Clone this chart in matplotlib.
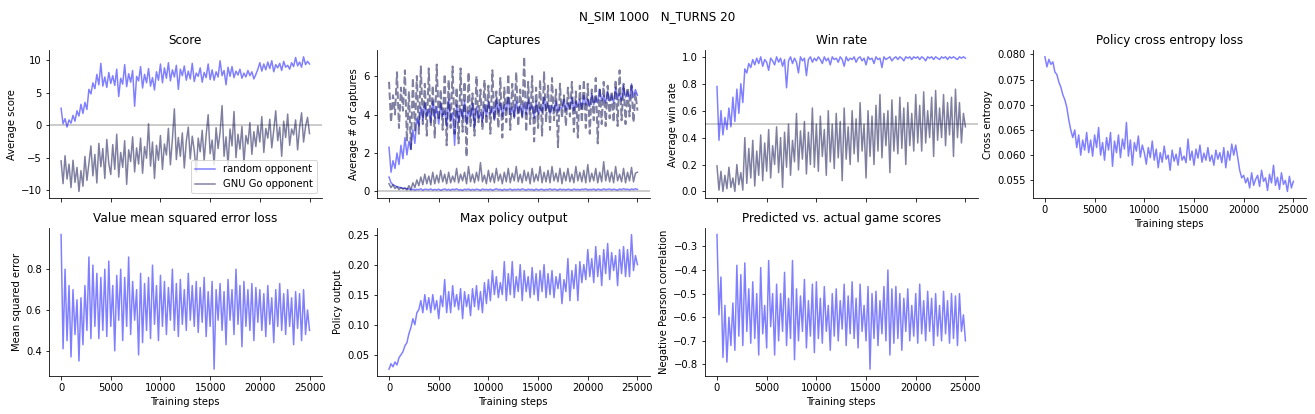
"""Training curves for the Go agent: score, captures, win rate and losses."""

import matplotlib

matplotlib.use("Agg")
import matplotlib.pyplot as plt
import numpy as np

# one logged value every STEP training steps
STEP = 200

score_random = [
    2.6, 0.2, 1.0, -0.3, 0.8, 0.3, 1.5, 0.6, 2.2, 1.4,
    3.2, 1.8, 3.5, 2.4, 5.5, 4.8, 6.5, 5.6, 7.8, 6.2,
    9.5, 6.0, 7.4, 5.8, 8.1, 6.4, 7.6, 6.1, 8.6, 4.4,
    7.2, 6.3, 9.3, 5.9, 7.9, 6.6, 8.4, 2.9, 7.5, 6.8,
    9.0, 5.7, 7.8, 6.5, 8.7, 6.0, 7.3, 5.4, 8.2, 6.9,
    9.4, 6.5, 8.8, 7.2, 9.6, 6.8, 8.5, 7.4, 9.2, 5.5,
    8.6, 7.6, 9.1, 6.9, 8.3, 7.1, 9.5, 6.7, 8.0, 7.5,
    8.8, 6.6, 8.1, 7.3, 9.4, 7.0, 8.5, 6.9, 8.2, 7.4,
    9.9, 7.6, 8.4, 6.2, 8.9, 7.5, 9.0, 7.3, 8.3, 7.7,
    8.6, 7.2, 8.0, 7.4, 8.4, 7.6, 8.2, 7.1, 7.8, 8.6,
    9.6, 8.3, 9.4, 8.5, 9.7, 8.7, 9.9, 8.2, 9.3, 8.8,
    9.5, 8.4, 9.8, 8.9, 9.2, 8.6, 9.6, 9.0, 10.4, 9.1,
    9.7, 8.9, 10.5, 9.3, 9.8, 9.4,
]
score_gnugo = [
    -5.5, -9.0, -4.7, -8.3, -6.0, -9.6, -5.4, -8.8, -6.5, -10.2,
    -7.0, -9.4, -4.8, -8.5, -5.9, -3.2, -7.8, -4.5, -8.9, -2.8,
    -6.4, -3.6, -8.2, -2.2, -5.9, -7.6, -3.0, -6.8, -1.4, -8.0,
    -4.2, -6.5, -2.4, -9.1, -3.8, -5.6, -1.8, -7.2, -3.5, -6.0,
    -2.0, -7.4, -3.3, -5.1, 0.2, -6.3, -2.6, -8.2, -3.1, -5.4,
    -1.6, -6.8, -2.9, -4.6, -0.5, -6.1, -2.2, 2.5, -5.3, -1.9,
    -4.8, -1.2, -6.6, -2.5, -0.3, -5.2, -1.7, -3.9, -7.2, -2.0,
    -4.1, -0.8, -5.5, -1.5, 1.6, -4.4, -2.3, -6.1, -0.4, -3.6,
    -1.1, 3.0, -4.8, -1.8, -6.2, -0.6, -3.2, 2.1, -5.0, -1.4,
    -3.7, -0.2, -5.8, -1.6, -2.9, 0.4, -4.5, -1.0, -3.3, -0.1,
    -2.6, 1.3, -4.2, -0.5, -2.0, 0.9, -3.5, -0.8, 2.2, -2.4,
    -0.3, -4.8, 0.6, -1.9, 1.7, -3.1, -0.6, -1.5, 0.8, -3.8,
    -0.4, 1.9, -2.6, -0.2, 1.2, -1.3,
]

# captures: own captures (high) and opponent captures (low)
capt_random_own = [
    2.3, 1.0, 1.6, 1.2, 2.0, 1.4, 2.4, 1.7, 2.8, 1.9,
    2.6, 2.2, 3.2, 2.5, 3.8, 3.4, 4.4, 3.7, 4.6, 3.9,
    4.3, 3.6, 4.7, 3.8, 4.4, 3.5, 4.6, 3.9, 4.2, 3.4,
    4.8, 3.7, 4.1, 2.4, 4.5, 3.6, 4.3, 3.8, 4.7, 3.5,
    4.2, 3.9, 4.6, 3.3, 4.4, 3.8, 4.1, 3.6, 4.5, 3.9,
    4.7, 4.0, 4.4, 3.7, 4.8, 4.1, 4.6, 3.9, 4.5, 4.2,
    4.9, 4.0, 4.4, 3.8, 4.7, 4.1, 4.5, 3.9, 4.6, 4.0,
    4.8, 4.2, 4.5, 3.8, 4.7, 4.0, 4.4, 4.1, 4.9, 4.2,
    4.6, 4.0, 4.5, 4.2, 4.7, 4.1, 4.4, 4.3, 4.8, 4.2,
    4.6, 4.3, 4.9, 4.2, 4.7, 4.4, 4.8, 4.3, 5.0, 4.5,
    4.8, 4.4, 5.1, 4.5, 4.9, 4.6, 5.3, 4.7, 5.0, 4.6,
    5.2, 4.7, 5.0, 4.6, 5.4, 4.8, 5.1, 4.7, 5.5, 4.9,
    5.2, 4.8, 5.6, 4.9, 5.3, 5.0,
]
capt_random_opp = [
    0.75, 0.45, 0.35, 0.30, 0.25, 0.22, 0.20, 0.17, 0.16, 0.14,
    0.13, 0.08, 0.12, 0.07, 0.11, 0.09, 0.14, 0.06, 0.12, 0.10,
    0.09, 0.13, 0.07, 0.11, 0.08, 0.12, 0.06, 0.10, 0.13, 0.08,
    0.11, 0.07, 0.12, 0.09, 0.14, 0.08, 0.10, 0.06, 0.12, 0.09,
    0.13, 0.07, 0.11, 0.08, 0.12, 0.10, 0.06, 0.13, 0.09, 0.11,
    0.08, 0.12, 0.07, 0.10, 0.14, 0.09, 0.11, 0.06, 0.12, 0.08,
    0.10, 0.13, 0.07, 0.11, 0.09, 0.12, 0.08, 0.14, 0.10, 0.07,
    0.12, 0.09, 0.11, 0.06, 0.13, 0.08, 0.10, 0.12, 0.07, 0.11,
    0.09, 0.14, 0.08, 0.12, 0.10, 0.07, 0.13, 0.09, 0.11, 0.08,
    0.12, 0.10, 0.07, 0.13, 0.09, 0.11, 0.08, 0.12, 0.10, 0.14,
    0.08, 0.11, 0.09, 0.13, 0.07, 0.12, 0.10, 0.08, 0.14, 0.09,
    0.11, 0.13, 0.08, 0.12, 0.10, 0.07, 0.13, 0.09, 0.15, 0.10,
    0.12, 0.08, 0.13, 0.10, 0.14, 0.11,
]
capt_gnugo_own = [
    5.7, 3.6, 5.0, 4.0, 6.2, 3.3, 5.4, 4.2, 6.3, 2.6,
    5.2, 2.2, 5.9, 3.1, 6.0, 3.0, 6.5, 3.5, 5.6, 2.9,
    6.4, 3.4, 5.5, 2.8, 6.6, 3.7, 5.3, 3.2, 6.1, 2.4,
    5.8, 3.3, 6.5, 3.0, 5.4, 2.5, 6.4, 3.1, 5.7, 1.8,
    6.2, 3.4, 5.1, 2.9, 6.0, 3.6, 5.3, 3.2, 5.8, 3.5,
    5.5, 3.0, 6.3, 3.7, 5.2, 3.3, 5.9, 2.8, 5.4, 3.6,
    6.1, 3.2, 5.6, 3.9, 6.2, 3.4, 5.3, 3.8, 7.0, 3.1,
    5.7, 3.5, 6.0, 2.6, 5.4, 3.3, 5.8, 2.9, 6.2, 3.6,
    5.5, 3.2, 5.9, 3.7, 5.3, 2.3, 5.6, 3.8, 5.0, 3.4,
    5.4, 3.9, 5.7, 3.1, 5.2, 2.8, 5.5, 3.6, 5.8, 3.3,
    5.6, 3.0, 5.3, 3.7, 5.9, 2.5, 5.4, 3.5, 5.7, 3.4,
    5.5, 3.8, 5.2, 3.6, 5.8, 3.4, 6.3, 3.7, 5.6, 3.5,
    5.4, 3.9, 5.5, 3.6, 5.1, 4.2,
]
capt_gnugo_opp = [
    0.40, 0.20, 0.35, 0.15, 0.25, 0.10, 0.20, 0.12, 0.18, 0.08,
    0.30, 0.10, 0.45, 0.20, 0.60, 0.30, 0.75, 0.35, 0.90, 0.40,
    0.80, 0.35, 1.00, 0.40, 0.85, 0.45, 1.10, 0.50, 0.90, 0.40,
    1.00, 0.45, 0.80, 0.50, 1.20, 0.45, 0.90, 0.55, 1.00, 0.40,
    1.30, 0.50, 0.90, 0.45, 1.00, 0.55, 1.50, 0.50, 0.85, 0.40,
    1.10, 0.50, 0.95, 0.45, 1.20, 0.55, 0.90, 0.40, 1.00, 0.50,
    1.20, 0.45, 0.95, 0.55, 1.30, 0.50, 0.90, 0.45, 1.10, 0.55,
    1.00, 0.40, 1.20, 0.50, 0.90, 0.55, 1.30, 0.45, 1.00, 0.50,
    1.10, 0.45, 1.30, 0.55, 0.95, 0.50, 1.20, 0.40, 1.00, 0.55,
    1.20, 0.50, 0.90, 0.45, 1.30, 0.55, 1.00, 0.50, 1.10, 0.45,
    1.40, 0.50, 0.95, 0.55, 1.20, 0.45, 1.00, 0.50, 1.55, 0.55,
    1.10, 0.50, 1.00, 0.45, 1.30, 0.55, 0.90, 0.50, 1.20, 0.45,
    1.00, 0.55, 1.25, 0.50, 0.95, 1.00,
]

winrate_random = [
    0.78, 0.38, 0.60, 0.42, 0.55, 0.46, 0.62, 0.48, 0.70, 0.52,
    0.76, 0.58, 0.80, 0.66, 0.91, 0.88, 0.95, 0.92, 0.98, 0.94,
    0.99, 0.95, 1.00, 0.93, 0.98, 0.96, 0.90, 0.99, 0.97, 0.94,
    1.00, 0.96, 0.99, 0.93, 0.98, 0.77, 0.97, 1.00, 0.95, 0.99,
    0.96, 0.88, 1.00, 0.97, 0.99, 0.86, 0.98, 1.00, 0.96, 0.99,
    0.97, 1.00, 0.98, 0.95, 1.00, 0.97, 0.99, 0.94, 1.00, 0.98,
    0.99, 0.96, 1.00, 0.98, 0.93, 1.00, 0.97, 0.99, 0.98, 1.00,
    0.96, 0.99, 1.00, 0.97, 0.99, 0.94, 1.00, 0.98, 0.99, 0.95,
    1.00, 0.98, 0.99, 0.92, 1.00, 0.98, 0.99, 1.00, 0.97, 0.99,
    1.00, 0.98, 1.00, 0.99, 0.97, 1.00, 0.99, 1.00, 0.98, 1.00,
    0.99, 1.00, 0.98, 1.00, 0.99, 0.97, 1.00, 0.99, 1.00, 0.98,
    1.00, 0.99, 0.98, 1.00, 0.99, 1.00, 0.98, 1.00, 0.99, 1.00,
    0.99, 0.98, 1.00, 0.99, 1.00, 0.99,
]
winrate_gnugo = [
    0.19, 0.01, 0.15, 0.00, 0.12, 0.02, 0.18, 0.03, 0.10, 0.00,
    0.20, 0.05, 0.14, 0.01, 0.40, 0.06, 0.32, 0.10, 0.38, 0.04,
    0.30, 0.12, 0.42, 0.08, 0.36, 0.15, 0.46, 0.10, 0.34, 0.20,
    0.48, 0.14, 0.40, 0.03, 0.44, 0.18, 0.50, 0.12, 0.38, 0.22,
    0.58, 0.16, 0.45, 0.24, 0.52, 0.13, 0.44, 0.20, 0.62, 0.18,
    0.50, 0.15, 0.56, 0.26, 0.46, 0.12, 0.60, 0.22, 0.50, 0.17,
    0.58, 0.25, 0.52, 0.08, 0.62, 0.24, 0.48, 0.20, 0.60, 0.28,
    0.54, 0.22, 0.66, 0.30, 0.50, 0.10, 0.60, 0.26, 0.56, 0.20,
    0.64, 0.30, 0.72, 0.25, 0.58, 0.34, 0.60, 0.14, 0.68, 0.30,
    0.56, 0.28, 0.70, 0.32, 0.62, 0.20, 0.66, 0.34, 0.58, 0.30,
    0.72, 0.36, 0.64, 0.30, 0.74, 0.36, 0.60, 0.40, 0.70, 0.26,
    0.75, 0.38, 0.62, 0.40, 0.72, 0.34, 0.66, 0.42, 0.70, 0.26,
    0.76, 0.40, 0.66, 0.36, 0.58, 0.48,
]

policy_ce = [
    0.0795, 0.0775, 0.0790, 0.0780, 0.0785, 0.0765, 0.0760, 0.0745, 0.0735, 0.0720,
    0.0710, 0.0695, 0.0670, 0.0650, 0.0635, 0.0650, 0.0615, 0.0640, 0.0600, 0.0630,
    0.0610, 0.0645, 0.0605, 0.0630, 0.0598, 0.0640, 0.0615, 0.0655, 0.0600, 0.0625,
    0.0590, 0.0635, 0.0610, 0.0645, 0.0578, 0.0628, 0.0605, 0.0640, 0.0595, 0.0632,
    0.0612, 0.0665, 0.0598, 0.0630, 0.0580, 0.0625, 0.0608, 0.0638, 0.0596, 0.0620,
    0.0605, 0.0582, 0.0615, 0.0595, 0.0628, 0.0590, 0.0612, 0.0575, 0.0605, 0.0586,
    0.0618, 0.0592, 0.0600, 0.0570, 0.0610, 0.0588, 0.0602, 0.0580, 0.0615, 0.0590,
    0.0598, 0.0585, 0.0632, 0.0590, 0.0608, 0.0580, 0.0612, 0.0594, 0.0620, 0.0586,
    0.0604, 0.0590, 0.0615, 0.0588, 0.0600, 0.0580, 0.0610, 0.0592, 0.0605, 0.0585,
    0.0615, 0.0575, 0.0608, 0.0590, 0.0622, 0.0600, 0.0620, 0.0595, 0.0570, 0.0555,
    0.0560, 0.0545, 0.0555, 0.0535, 0.0565, 0.0540, 0.0552, 0.0560, 0.0538, 0.0570,
    0.0548, 0.0555, 0.0530, 0.0562, 0.0545, 0.0580, 0.0540, 0.0556, 0.0532, 0.0565,
    0.0542, 0.0550, 0.0528, 0.0558, 0.0535, 0.0548,
]

value_mse = [
    0.97, 0.41, 0.80, 0.45, 0.72, 0.37, 0.70, 0.48, 0.65, 0.35,
    0.66, 0.43, 0.72, 0.50, 0.86, 0.46, 0.82, 0.52, 0.78, 0.46,
    0.76, 0.50, 0.80, 0.47, 0.84, 0.52, 0.72, 0.40, 0.77, 0.55,
    0.80, 0.45, 0.76, 0.52, 0.86, 0.48, 0.74, 0.55, 0.70, 0.38,
    0.78, 0.44, 0.73, 0.50, 0.76, 0.46, 0.82, 0.53, 0.72, 0.45,
    0.77, 0.52, 0.74, 0.48, 0.71, 0.55, 0.80, 0.50, 0.73, 0.47,
    0.75, 0.53, 0.70, 0.50, 0.78, 0.55, 0.72, 0.52, 0.74, 0.49,
    0.71, 0.54, 0.76, 0.47, 0.69, 0.52, 0.74, 0.31, 0.70, 0.55,
    0.73, 0.50, 0.69, 0.43, 0.75, 0.55, 0.70, 0.48, 0.80, 0.53,
    0.72, 0.42, 0.74, 0.52, 0.70, 0.50, 0.73, 0.45, 0.71, 0.54,
    0.70, 0.50, 0.68, 0.47, 0.72, 0.53, 0.66, 0.44, 0.70, 0.52,
    0.73, 0.50, 0.68, 0.48, 0.70, 0.52, 0.66, 0.43, 0.69, 0.51,
    0.68, 0.45, 0.70, 0.48, 0.60, 0.50,
]

max_policy = [
    0.026, 0.035, 0.030, 0.038, 0.033, 0.045, 0.050, 0.055, 0.065, 0.070,
    0.085, 0.095, 0.110, 0.100, 0.120, 0.125, 0.140, 0.120, 0.150, 0.125,
    0.145, 0.120, 0.150, 0.125, 0.140, 0.110, 0.148, 0.130, 0.175, 0.120,
    0.155, 0.120, 0.165, 0.130, 0.150, 0.125, 0.160, 0.110, 0.155, 0.130,
    0.150, 0.115, 0.160, 0.130, 0.165, 0.125, 0.155, 0.120, 0.170, 0.135,
    0.175, 0.140, 0.190, 0.150, 0.180, 0.145, 0.170, 0.150, 0.205, 0.140,
    0.185, 0.150, 0.205, 0.145, 0.180, 0.155, 0.200, 0.140, 0.190, 0.155,
    0.180, 0.145, 0.195, 0.150, 0.185, 0.140, 0.190, 0.155, 0.200, 0.145,
    0.185, 0.150, 0.190, 0.145, 0.180, 0.160, 0.185, 0.135, 0.175, 0.155,
    0.210, 0.140, 0.190, 0.160, 0.200, 0.140, 0.205, 0.170, 0.200, 0.175,
    0.225, 0.180, 0.210, 0.170, 0.230, 0.180, 0.215, 0.165, 0.225, 0.185,
    0.235, 0.175, 0.220, 0.190, 0.215, 0.165, 0.225, 0.185, 0.230, 0.180,
    0.225, 0.180, 0.250, 0.190, 0.215, 0.200,
]

neg_pearson = [
    -0.25, -0.59, -0.43, -0.77, -0.55, -0.79, -0.60, -0.72, -0.54, -0.74,
    -0.38, -0.68, -0.42, -0.72, -0.37, -0.66, -0.48, -0.71, -0.45, -0.69,
    -0.50, -0.76, -0.39, -0.67, -0.55, -0.73, -0.36, -0.64, -0.50, -0.76,
    -0.46, -0.70, -0.50, -0.66, -0.41, -0.72, -0.52, -0.69, -0.36, -0.78,
    -0.48, -0.70, -0.51, -0.66, -0.44, -0.73, -0.53, -0.68, -0.46, -0.75,
    -0.45, -0.69, -0.52, -0.71, -0.47, -0.66, -0.55, -0.74, -0.50, -0.68,
    -0.48, -0.70, -0.53, -0.65, -0.46, -0.72, -0.51, -0.67, -0.45, -0.69,
    -0.52, -0.73, -0.46, -0.66, -0.55, -0.70, -0.47, -0.82, -0.50, -0.69,
    -0.49, -0.72, -0.53, -0.67, -0.47, -0.70, -0.40, -0.76, -0.48, -0.71,
    -0.47, -0.69, -0.50, -0.74, -0.52, -0.66, -0.48, -0.70, -0.55, -0.68,
    -0.50, -0.71, -0.46, -0.67, -0.53, -0.70, -0.49, -0.66, -0.52, -0.72,
    -0.50, -0.68, -0.55, -0.70, -0.49, -0.67, -0.53, -0.71, -0.50, -0.69,
    -0.51, -0.72, -0.50, -0.66, -0.59, -0.70,
]

C_RANDOM = "blue"
C_GNUGO = "#000044"
ALPHA = 0.5
DPI = 72


def steps(values):
    return np.arange(len(values)) * STEP


def baseline(ax, y):
    ax.axhline(y, color="k", alpha=0.2, linewidth=2)


def main():
    # 1315 x 414 px at 72 dpi
    fig, axes = plt.subplots(2, 4, figsize=(1315 / DPI, 414 / DPI), sharex=True)
    fig.subplots_adjust(left=0.037, right=0.993, top=0.879, bottom=0.092,
                        wspace=0.2, hspace=0.2)
    fig.suptitle("N_SIM 1000   N_TURNS 20", y=0.975)

    # ---- score ----
    ax = axes[0, 0]
    baseline(ax, 0)
    ax.plot(steps(score_random), score_random, color=C_RANDOM, alpha=ALPHA, label="random opponent")
    ax.plot(steps(score_gnugo), score_gnugo, color=C_GNUGO, alpha=ALPHA, label="GNU Go opponent")
    ax.set_title("Score")
    ax.set_ylabel("Average score")
    ax.set_yticks([-10, -5, 0, 5, 10])
    ax.legend(loc="lower right")

    # ---- captures ----
    ax = axes[0, 1]
    baseline(ax, 0)
    ax.plot(steps(capt_random_own), capt_random_own, color=C_RANDOM, alpha=ALPHA)
    ax.plot(steps(capt_random_opp), capt_random_opp, color=C_RANDOM, alpha=ALPHA)
    ax.plot(steps(capt_gnugo_own), capt_gnugo_own, color=C_GNUGO, alpha=ALPHA, linestyle="--", linewidth=2)
    ax.plot(steps(capt_gnugo_opp), capt_gnugo_opp, color=C_GNUGO, alpha=ALPHA)
    ax.set_title("Captures")
    ax.set_ylabel("Average # of captures")
    ax.set_yticks([0, 2, 4, 6])

    # ---- win rate ----
    ax = axes[0, 2]
    baseline(ax, 0.5)
    ax.plot(steps(winrate_random), winrate_random, color=C_RANDOM, alpha=ALPHA)
    ax.plot(steps(winrate_gnugo), winrate_gnugo, color=C_GNUGO, alpha=ALPHA)
    ax.set_title("Win rate")
    ax.set_ylabel("Average win rate")
    ax.set_yticks([0.0, 0.2, 0.4, 0.6, 0.8, 1.0])

    # ---- policy cross entropy ----
    ax = axes[0, 3]
    ax.plot(steps(policy_ce), policy_ce, color=C_RANDOM, alpha=ALPHA)
    ax.set_title("Policy cross entropy loss")
    ax.set_ylabel("Cross entropy")
    ax.set_xlabel("Training steps")
    ax.set_yticks([0.055, 0.060, 0.065, 0.070, 0.075, 0.080])
    ax.tick_params(labelbottom=True)

    # ---- value mse ----
    ax = axes[1, 0]
    ax.plot(steps(value_mse), value_mse, color=C_RANDOM, alpha=ALPHA)
    ax.set_title("Value mean squared error loss")
    ax.set_ylabel("Mean squared error")
    ax.set_xlabel("Training steps")
    ax.set_yticks([0.4, 0.6, 0.8])

    # ---- max policy ----
    ax = axes[1, 1]
    ax.plot(steps(max_policy), max_policy, color=C_RANDOM, alpha=ALPHA)
    ax.set_title("Max policy output")
    ax.set_ylabel("Policy output")
    ax.set_xlabel("Training steps")
    ax.set_yticks([0.05, 0.10, 0.15, 0.20, 0.25])

    # ---- predicted vs actual ----
    ax = axes[1, 2]
    ax.plot(steps(neg_pearson), neg_pearson, color=C_RANDOM, alpha=ALPHA)
    ax.set_title("Predicted vs. actual game scores")
    ax.set_ylabel("Negative Pearson correlation")
    ax.set_xlabel("Training steps")
    ax.set_yticks([-0.8, -0.7, -0.6, -0.5, -0.4, -0.3])

    axes[1, 3].axis("off")

    for ax in axes.flat:
        ax.spines["top"].set_visible(False)
        ax.spines["right"].set_visible(False)
    axes[0, 0].set_xticks([0, 5000, 10000, 15000, 20000, 25000])

    fig.savefig("out.png", dpi=DPI)
    plt.close(fig)


if __name__ == "__main__":
    main()
